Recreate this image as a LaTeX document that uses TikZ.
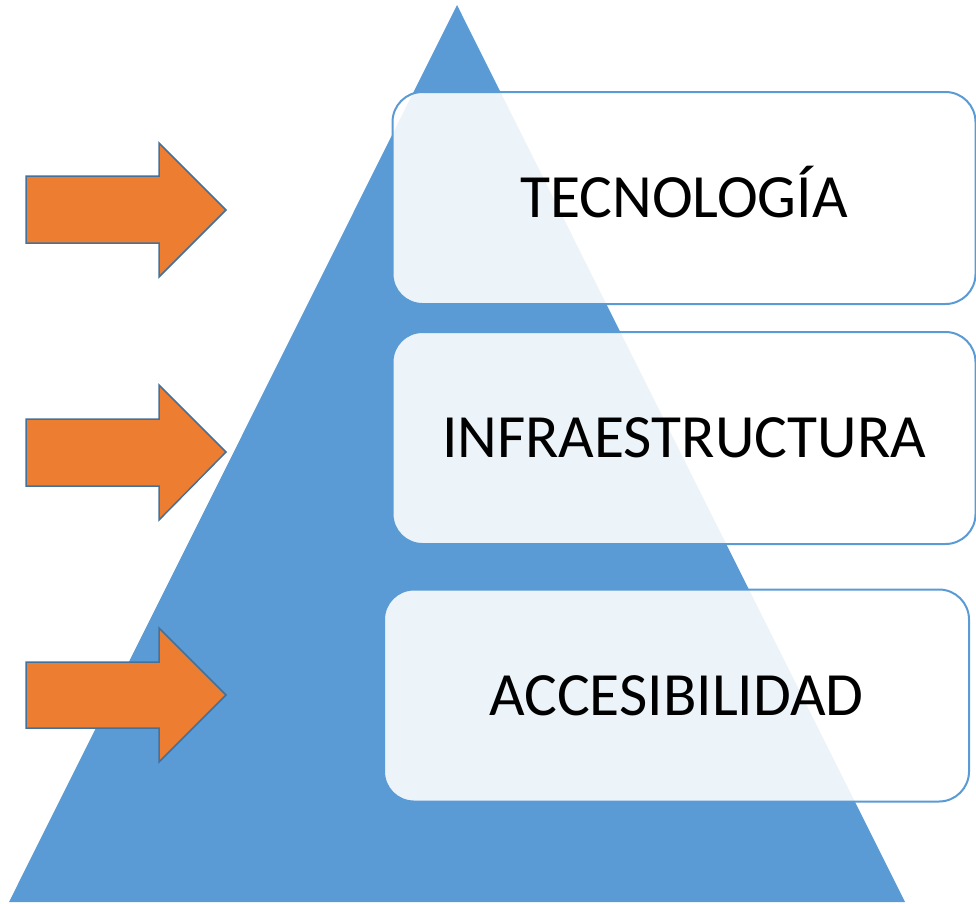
\documentclass[tikz,border=0pt]{standalone}
\usepackage{fontspec}
\setmainfont{Carlito}
\definecolor{pyrblue}{HTML}{5B9BD5}
\definecolor{arrorange}{HTML}{ED7D31}
\definecolor{arredge}{HTML}{41719C}
\begin{document}
\begin{tikzpicture}[x=1pt,y=-1pt,
    level/.style={draw=pyrblue,line width=2pt,fill=white,fill opacity=0.89,text opacity=1,
        rounded corners=30pt,minimum height=212pt,inner sep=0pt,
        font=\fontsize{61.5}{70}\selectfont,text height=39pt,text depth=0pt},
    push/.style={fill=arrorange,draw=arredge,line width=1.5pt,line join=miter}]
    \useasboundingbox (0,0) rectangle (976,903);
    \fill[pyrblue] (457,5) -- (905,902) -- (9,902) -- cycle;
    % arrows
    \draw[push] (26,176) -- (159,176) -- (159,143) -- (226,210) -- (159,277) -- (159,243) -- (26,243) -- cycle;
    \draw[push] (26,419) -- (159,419) -- (159,385) -- (226,452) -- (159,520) -- (159,486) -- (26,486) -- cycle;
    \draw[push] (26,662) -- (159,662) -- (159,628) -- (226,695) -- (159,762) -- (159,728) -- (26,728) -- cycle;
    % levels
    \node[level,minimum width=583pt] (T) at (684,198) {TECNOLOGÍA};
    \node[level,minimum width=583pt] (I) at (684,438) {INFRAESTRUCTURA};
    \node[level,minimum width=585pt] (A) at (676.5,695.5) {ACCESIBILIDAD};
\end{tikzpicture}
\end{document}
